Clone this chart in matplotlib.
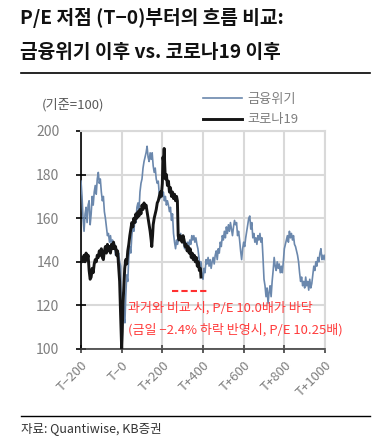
import matplotlib
matplotlib.use("Agg")
import matplotlib.pyplot as plt
from matplotlib.lines import Line2D

plt.rcParams['font.family'] = ['Noto Sans CJK KR', 'DejaVu Sans']
plt.rcParams['axes.unicode_minus'] = True

# ---- data ----
gfc_t = [-200,-195,-190,-185,-180,-175,-170,-165,-160,-155,-150,-145,-140,-135,-130,-125,-120,-115,-110,-105,
         -100,-95,-90,-85,-80,-75,-70,-65,-60,-55,-50,-45,-40,-35,-30,-25,-20,-15,-10,-5,
         0,3,8,12,16,20,25,30,35,40,45,50,55,60,65,70,75,80,85,90,95,
         100,105,110,115,120,125,130,135,140,145,150,155,160,165,170,175,180,185,190,195,
         200,205,210,215,220,225,230,235,240,245,250,255,260,265,270,275,280,285,290,295,
         300,305,310,315,320,325,330,335,340,345,350,355,360,365,370,375,380,385,390,395,
         400,405,410,415,420,425,430,435,440,445,450,455,460,465,470,475,480,485,490,495,
         500,505,510,515,520,525,530,535,540,545,550,555,560,565,570,575,580,585,590,595,
         600,605,610,615,620,625,630,635,640,645,650,655,660,665,670,675,680,685,690,695,
         700,705,710,715,720,725,730,735,740,745,750,755,760,765,770,775,780,785,790,795,
         800,805,810,815,820,825,830,835,840,845,850,855,860,865,870,875,880,885,890,895,
         900,905,910,915,920,925,930,935,940,945,950,955,960,965,970,975,980,985,990,995,1000]
gfc_v = [177,170,160,154,162,165,158,166,168,157,162,170,166,172,175,171,178,181,176,178,
         172,168,170,163,160,156,152,153,149,152,148,150,146,148,143,146,142,144,140,138,
         100,118,126,114,112,124,134,131,142,147,144,152,157,154,160,158,165,167,163,172,176,
         178,183,186,188,190,193,188,186,190,187,190,184,181,183,178,176,177,171,169,172,
         170,172,168,170,166,168,166,163,165,159,162,153,149,146,150,148,151,150,153,149,
         151,148,146,149,147,149,147,150,148,152,150,152,149,151,148,146,142,138,140,134,
         132,137,135,141,139,142,138,141,137,140,142,139,143,145,141,146,144,149,147,152,
         150,154,151,156,153,157,154,158,155,152,156,159,157,158,152,154,150,145,141,146,
         149,147,151,154,157,160,161,155,158,151,153,149,151,148,152,150,153,149,151,142,
         132,129,124,128,121,126,129,124,131,136,142,138,136,140,137,139,135,138,135,140,
         146,148,150,152,149,154,151,153,150,152,148,147,145,143,140,135,131,133,129,131,
         128,133,129,131,127,132,128,130,134,138,136,140,138,142,140,144,146,141,143,141,143]

covid_t = [-200,-195,-190,-185,-180,-175,-170,-165,-160,-155,-150,-145,-140,-135,-130,-125,-120,-115,-110,-105,
           -100,-95,-90,-85,-80,-75,-70,-65,-60,-55,-50,-45,-40,-35,-30,-25,-20,-15,-10,-5,
           0,3,6,10,15,20,25,30,35,40,45,50,55,60,65,70,75,80,85,90,95,
           100,105,110,115,120,125,130,135,140,145,148,152,155,160,165,170,175,180,185,190,195,
           200,203,206,209,212,215,220,225,230,235,240,245,250,255,260,265,270,274,278,282,287,
           292,297,302,307,312,317,322,327,332,337,342,347,352,357,362,367,372,377,382,387,390]
covid_v = [140,142,141,143,140,144,141,143,136,132,133,137,135,139,141,140,143,142,145,143,
           146,142,141,145,147,144,148,145,147,144,148,146,149,146,147,143,145,138,131,115,
           100,108,120,127,137,141,139,145,148,152,155,158,156,160,158,162,160,163,161,164,162,
           166,164,167,165,166,163,160,157,154,150,147,152,157,160,162,164,167,168,170,172,170,
           176,188,186,192,184,178,180,175,177,172,174,170,172,169,171,168,170,168,152,150,152,
           151,149,152,150,147,148,145,147,144,146,142,144,141,143,140,142,138,140,136,137,133]

series_names = ['금융위기', '코로나19']
x_ticks = [-200, 0, 200, 400, 600, 800, 1000]
x_ticklabels = ['T−200', 'T−0', 'T+200', 'T+400', 'T+600', 'T+800', 'T+1000']
y_ticks = [100, 120, 140, 160, 180, 200]
floor_level = 126.6
floor_span = (248, 425)

# ---- figure ----
W, H = 380, 442
fig = plt.figure(figsize=(W/100, H/100), dpi=100)
ax = fig.add_axes([81/W, 1-349/H, (325-81)/W, (349-131)/H])

blue = '#6b88ad'
ax.plot(gfc_t, gfc_v, color=blue, lw=1.2, zorder=3, label=series_names[0])
ax.plot(covid_t, covid_v, color='#151515', lw=2.1, zorder=4, label=series_names[1])

ax.set_xlim(-200, 1000)
ax.set_ylim(100, 200)
ax.set_xticks(x_ticks)
ax.set_xticklabels(x_ticklabels, rotation=45, ha='right', rotation_mode='anchor')
ax.set_yticks(y_ticks)
ax.grid(True, color='#d9d9d9', lw=1.5, zorder=0)
ax.set_axisbelow(True)
for s in ['top', 'right']:
    ax.spines[s].set_color('#d9d9d9')
    ax.spines[s].set_linewidth(1.5)
ax.spines['left'].set_color('#000000')
ax.spines['left'].set_linewidth(1.2)
ax.spines['bottom'].set_color('#404040')
ax.spines['bottom'].set_linewidth(1.2)
ax.tick_params(axis='y', direction='inout', length=7, width=1.2, color='#000000',
               labelsize=10, labelcolor='#7f7f7f', pad=12)
ax.tick_params(axis='x', direction='inout', length=6, width=1.2, color='#404040',
               labelsize=9.5, labelcolor='#7f7f7f', pad=4)

# red annotation
ax.hlines(floor_level, floor_span[0], floor_span[1], colors='#ff3030', lw=1.5,
          linestyles=(0, (3, 1.5)), zorder=5)
fig.text(128/W, 1-308/H, '과거와 비교 시, P/E 10.0배가 바닥', color='#ff3b3b',
         fontsize=9.4, va='center', ha='left')
fig.text(128/W, 1-330/H, '(금일 −2.4% 하락 반영시, P/E 10.25배)', color='#ff3b3b',
         fontsize=9.4, va='center', ha='left')

# legend
handles = [Line2D([], [], color=blue, lw=1.2), Line2D([], [], color='#151515', lw=2.1)]
leg = fig.legend(handles, series_names, loc='upper left', bbox_to_anchor=(191/W, 1-81/H),
                 frameon=False, fontsize=9.5, handlelength=3.0, handletextpad=0.4,
                 labelspacing=0.55)
for t in leg.get_texts():
    t.set_color('#7f7f7f')

# y label
fig.text(42/W, 1-105/H, '(기준=100)', fontsize=9.5, color='#595959', va='center', ha='left')

# title
fig.text(20/W, 1-18/H, 'P/E 저점 (T−0)부터의 흐름 비교:', fontsize=13.8, fontweight='bold',
         color='#111111', va='center', ha='left')
fig.text(20/W, 1-52/H, '금융위기 이후 vs. 코로나19 이후', fontsize=13.8, fontweight='bold',
         color='#111111', va='center', ha='left')
fig.add_artist(Line2D([21/W, 370/W], [1-73/H, 1-73/H], color='#000000', lw=1.2))
fig.add_artist(Line2D([21/W, 370/W], [1-416/H, 1-416/H], color='#000000', lw=1.0))
fig.text(21/W, 1-429/H, '자료: Quantiwise, KB증권', fontsize=9, color='#333333',
         va='center', ha='left')

fig.savefig('out.png', dpi=100)
